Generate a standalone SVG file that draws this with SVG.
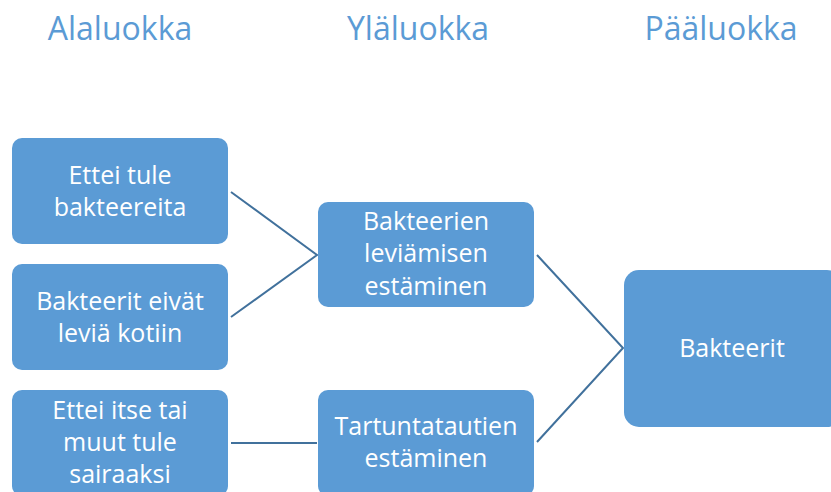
<svg xmlns="http://www.w3.org/2000/svg" width="831" height="492" viewBox="0 0 831 492">
  <style>
    .head { font-family: "Open Sans", "Liberation Sans", sans-serif; font-size: 32px; fill: #5B9BD5; text-anchor: middle; }
    .box { fill: #5B9BD5; }
    .lbl { font-family: "Open Sans", "Liberation Sans", sans-serif; font-size: 25px; fill: #FFFFFF; text-anchor: middle; }
    .link { stroke: #41719C; stroke-width: 2; fill: none; }
  </style>
  <rect width="831" height="492" fill="#FFFFFF"/>

  <!-- column headings -->
  <g id="headings">
    <text class="head" x="120" y="40">Alaluokka</text>
    <text class="head" x="418" y="40">Yläluokka</text>
    <text class="head" x="721" y="40">Pääluokka</text>
  </g>

  <!-- connectors -->
  <g id="connectors">
    <polyline class="link" points="231,192 317,255 231,317"/>
    <line class="link" x1="231" y1="443" x2="317" y2="443"/>
    <polyline class="link" points="537,255 623,348 537,442"/>
  </g>

  <!-- sub-class nodes -->
  <g id="n-ettei-tule">
    <rect class="box" x="12" y="138" width="216" height="106" rx="10"/>
    <text class="lbl" x="120" y="184">Ettei tule</text>
    <text class="lbl" x="120" y="216">bakteereita</text>
  </g>
  <g id="n-eivat-levia">
    <rect class="box" x="12" y="264" width="216" height="106" rx="10"/>
    <text class="lbl" x="120" y="310">Bakteerit eivät</text>
    <text class="lbl" x="120" y="342">leviä kotiin</text>
  </g>
  <g id="n-ettei-itse">
    <rect class="box" x="12" y="390" width="216" height="106" rx="10"/>
    <text class="lbl" x="120" y="419">Ettei itse tai</text>
    <text class="lbl" x="120" y="451">muut tule</text>
    <text class="lbl" x="120" y="483">sairaaksi</text>
  </g>

  <!-- upper-class nodes -->
  <g id="n-leviamisen">
    <rect class="box" x="318" y="202" width="216" height="105" rx="10"/>
    <text class="lbl" x="426" y="230">Bakteerien</text>
    <text class="lbl" x="426" y="262">leviämisen</text>
    <text class="lbl" x="426" y="295">estäminen</text>
  </g>
  <g id="n-tartuntatautien">
    <rect class="box" x="318" y="390" width="216" height="106" rx="10"/>
    <text class="lbl" x="426" y="435">Tartuntatautien</text>
    <text class="lbl" x="426" y="467">estäminen</text>
  </g>

  <!-- main class node -->
  <g id="n-bakteerit">
    <rect class="box" x="624" y="270" width="218" height="157" rx="15"/>
    <text class="lbl" x="732" y="357">Bakteerit</text>
  </g>
</svg>
